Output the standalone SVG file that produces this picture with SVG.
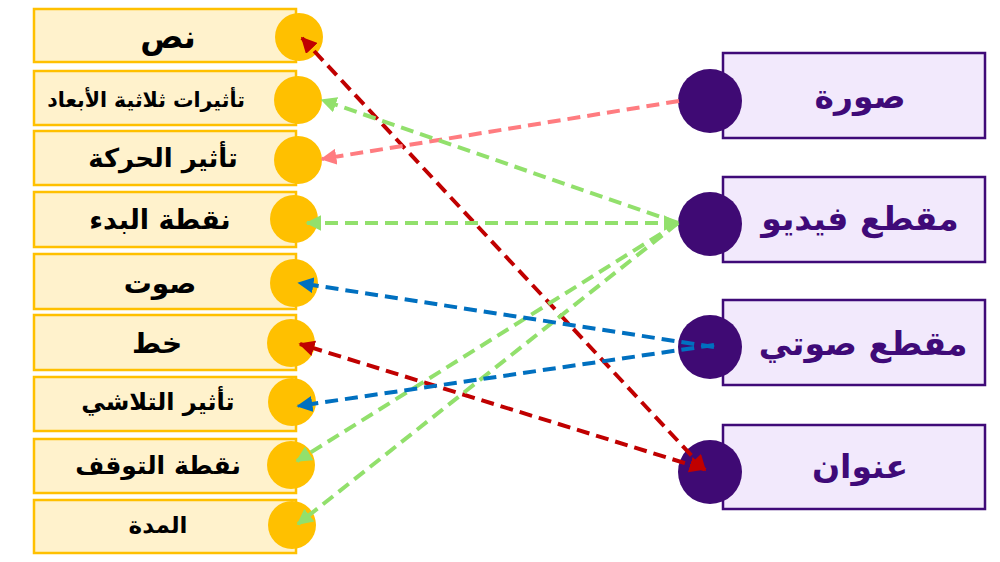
<svg xmlns="http://www.w3.org/2000/svg" width="1000" height="562" viewBox="0 0 1000 562">
<style>
.lb{fill:#fff2cc;stroke:#ffc000;stroke-width:2.5}
.lc{fill:#ffc000}
.rb{fill:#f2e9fc;stroke:#3f0a78;stroke-width:2.5}
.rc{fill:#3f0a74}
.lt{font-family:"DejaVu Sans",sans-serif;font-weight:bold;fill:#000;text-anchor:middle;dominant-baseline:central}
.rt{font-family:"DejaVu Sans",sans-serif;font-weight:bold;fill:#3f0a78;text-anchor:middle;dominant-baseline:central;font-size:33px}
.c{fill:none;stroke-width:4;stroke-dasharray:13 7}
</style>
<defs>
<marker id="ar" viewBox="0 0 10 10" refX="9" refY="5" markerWidth="4" markerHeight="4" orient="auto-start-reverse"><path d="M0,0L10,5L0,10z" fill="#c00000"/></marker>
<marker id="ag" viewBox="0 0 10 10" refX="9" refY="5" markerWidth="4" markerHeight="4" orient="auto-start-reverse"><path d="M0,0L10,5L0,10z" fill="#92e06c"/></marker>
<marker id="ab" viewBox="0 0 10 10" refX="9" refY="5" markerWidth="4" markerHeight="4" orient="auto-start-reverse"><path d="M0,0L10,5L0,10z" fill="#0070c0"/></marker>
<marker id="as" viewBox="0 0 10 10" refX="9" refY="5" markerWidth="4" markerHeight="4" orient="auto-start-reverse"><path d="M0,0L10,5L0,10z" fill="#ff7c80"/></marker>
</defs>
<rect width="1000" height="562" fill="#fff"/>
<g id="n1"><rect class="lb" x="34" y="9" width="262" height="53"/><circle class="lc" cx="299" cy="37" r="24"/><text class="lt" x="168" y="37" font-size="32">نص</text></g>
<g id="n2"><rect class="lb" x="34" y="71" width="262" height="54"/><circle class="lc" cx="298" cy="100" r="24"/><text class="lt" x="146" y="100" font-size="20.5">تأثيرات ثلاثية الأبعاد</text></g>
<g id="n3"><rect class="lb" x="34" y="131" width="262" height="54"/><circle class="lc" cx="298" cy="160" r="24"/><text class="lt" x="163" y="158" font-size="26">تأثير الحركة</text></g>
<g id="n4"><rect class="lb" x="34" y="192" width="262" height="55"/><circle class="lc" cx="294" cy="219" r="24"/><text class="lt" x="160" y="219" font-size="27">نقطة البدء</text></g>
<g id="n5"><rect class="lb" x="34" y="254" width="262" height="55"/><circle class="lc" cx="294" cy="283" r="24"/><text class="lt" x="160" y="283" font-size="28">صوت</text></g>
<g id="n6"><rect class="lb" x="34" y="315" width="262" height="55"/><circle class="lc" cx="291" cy="343" r="24"/><text class="lt" x="157" y="343" font-size="28">خط</text></g>
<g id="n7"><rect class="lb" x="34" y="377" width="262" height="54"/><circle class="lc" cx="292" cy="402" r="24"/><text class="lt" x="158" y="402" font-size="24">تأثير التلاشي</text></g>
<g id="n8"><rect class="lb" x="34" y="439" width="262" height="54"/><circle class="lc" cx="291" cy="465" r="24"/><text class="lt" x="158" y="465" font-size="25">نقطة التوقف</text></g>
<g id="n9"><rect class="lb" x="34" y="500" width="262" height="53"/><circle class="lc" cx="292" cy="525" r="24"/><text class="lt" x="158" y="525" font-size="23">المدة</text></g>
<g id="r1"><rect class="rb" x="723" y="53" width="262" height="85"/><circle class="rc" cx="710" cy="101" r="32"/><text class="rt" x="860" y="96">صورة</text></g>
<g id="r2"><rect class="rb" x="723" y="177" width="262" height="85"/><circle class="rc" cx="710" cy="224" r="32"/><text class="rt" x="860" y="218">مقطع فيديو</text></g>
<g id="r3"><rect class="rb" x="723" y="300" width="262" height="85"/><circle class="rc" cx="710" cy="347" r="32"/><text class="rt" x="863" y="343">مقطع صوتي</text></g>
<g id="r4"><rect class="rb" x="723" y="425" width="262" height="84"/><circle class="rc" cx="710" cy="472" r="32"/><text class="rt" x="860" y="466">عنوان</text></g>
<g id="connectors">
<line class="c" stroke="#c00000" x1="705" y1="470" x2="302" y2="38" marker-start="url(#ar)" marker-end="url(#ar)"/>
<line class="c" stroke="#c00000" x1="704" y1="469" x2="300" y2="344" marker-start="url(#ar)" marker-end="url(#ar)"/>
<line class="c" stroke="#ff7c80" x1="679" y1="101" x2="322" y2="159" marker-end="url(#as)"/>
<line class="c" stroke="#92e06c" x1="678" y1="223" x2="322" y2="100" marker-end="url(#ag)"/>
<line class="c" stroke="#92e06c" x1="678" y1="223" x2="307" y2="223" marker-start="url(#ag)" marker-end="url(#ag)"/>
<line class="c" stroke="#92e06c" x1="678" y1="223" x2="297" y2="461" marker-end="url(#ag)"/>
<line class="c" stroke="#92e06c" x1="678" y1="223" x2="298" y2="524" marker-end="url(#ag)"/>
<line class="c" stroke="#0070c0" x1="714" y1="347" x2="299" y2="283" marker-end="url(#ab)"/>
<line class="c" stroke="#0070c0" x1="714" y1="345" x2="298" y2="406" marker-end="url(#ab)"/>
</g>
</svg>
